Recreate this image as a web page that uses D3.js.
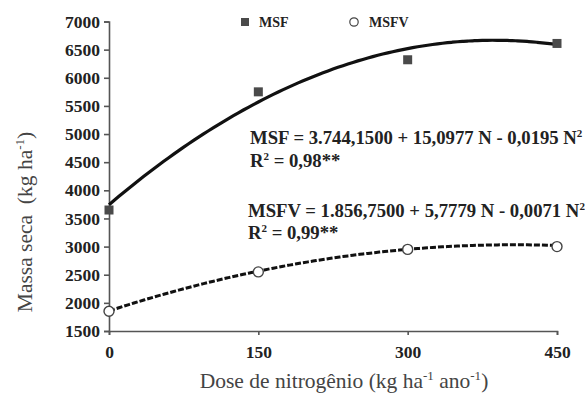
<!DOCTYPE html>
<html>
<head>
<meta charset="utf-8">
<script src="https://cdn.jsdelivr.net/npm/d3@7"></script>
<style>
  html, body { margin: 0; padding: 0; background: #fff; }
  svg { display: block; }
  text { font-family: "Liberation Serif", "Times New Roman", serif; }
</style>
</head>
<body>
<div id="chart"></div>
<script>
// ---- data ----
const doses = [0, 150, 300, 450];
const msfValues = [3650, 5750, 6320, 6610];
const msfvValues = [1850, 2550, 2950, 3000];
const xTicks = [0, 150, 300, 450];
const yTicks = [1500, 2000, 2500, 3000, 3500, 4000, 4500, 5000, 5500, 6000, 6500, 7000];
// regression coefficients printed on the chart (a, b, c of a + bN + cN²)
const msfCoef = [3744.15, 15.0977, -0.0195];
const msfvCoef = [1856.75, 5.7779, -0.0071];

const W = 585, H = 393;
const svg = d3.select("#chart").append("svg").attr("width", W).attr("height", H);

const x = d3.scaleLinear().domain([0, 450]).range([109, 557]);
const y = d3.scaleLinear().domain([1500, 7000]).range([331, 21.5]);

const axisColor = "#555";

// y axis
const yAxis = svg.append("g").attr("transform", `translate(${x(0)},0)`)
  .call(d3.axisLeft(y).tickValues(yTicks).tickSize(5).tickPadding(4).tickFormat(d3.format("d")));
// x axis
const xAxis = svg.append("g").attr("transform", `translate(0,${y(1500)})`)
  .call(d3.axisBottom(x).tickValues(xTicks).tickSize(4).tickPadding(6).tickFormat(d3.format("d")));

[yAxis, xAxis].forEach(g => {
  g.attr("font-family", "'Liberation Serif', serif");
  g.select(".domain").attr("stroke", axisColor).attr("stroke-width", 1.6);
  g.selectAll(".tick line").attr("stroke", axisColor).attr("stroke-width", 1.6);
  g.selectAll(".tick text").attr("fill", "#222").attr("font-size", 17.5).attr("font-weight", "bold");
});
xAxis.selectAll(".tick text").attr("dy", "0.95em");

// fitted curves
const fitPts = d3.range(0, 451, 5);
const poly = (c, n) => c[0] + c[1] * n + c[2] * n * n;
const line = d3.line().x(d => x(d[0])).y(d => y(d[1])).curve(d3.curveMonotoneX);

svg.append("path").datum(fitPts.map(n => [n, poly(msfCoef, n)]))
  .attr("d", line).attr("fill", "none").attr("stroke", "#111").attr("stroke-width", 3.2);
svg.append("path").datum(fitPts.map(n => [n, poly(msfvCoef, n)]))
  .attr("d", line).attr("fill", "none").attr("stroke", "#111").attr("stroke-width", 3)
  .attr("stroke-dasharray", "6,2");

// markers
const sq = 9;
svg.append("g").selectAll("rect").data(doses).join("rect")
  .attr("x", (d, i) => x(d) - sq / 2).attr("y", (d, i) => y(msfValues[i]) - sq / 2)
  .attr("width", sq).attr("height", sq).attr("fill", "#4a4a4a");
svg.append("g").selectAll("circle").data(doses).join("circle")
  .attr("cx", d => x(d)).attr("cy", (d, i) => y(msfvValues[i])).attr("r", 5)
  .attr("fill", "#fff").attr("stroke", "#444").attr("stroke-width", 1.4);

// legend
svg.append("rect").attr("x", 241).attr("y", 18).attr("width", 8).attr("height", 8).attr("fill", "#4a4a4a");
svg.append("text").attr("x", 259).attr("y", 27).attr("font-size", 14).attr("font-weight", "bold").attr("fill", "#222").text("MSF");
svg.append("circle").attr("cx", 354).attr("cy", 22).attr("r", 4.2).attr("fill", "#fff").attr("stroke", "#444").attr("stroke-width", 1.2);
svg.append("text").attr("x", 369).attr("y", 27).attr("font-size", 14).attr("font-weight", "bold").attr("fill", "#222").text("MSFV");

// equations
function eq(xp, yp, main) {
  const t = svg.append("text").attr("x", xp).attr("y", yp).attr("font-size", 18.7).attr("font-weight", "bold").attr("fill", "#222");
  t.append("tspan").text(main);
  t.append("tspan").attr("font-size", 11).attr("dy", -7).text("2");
}
function r2(xp, yp, val) {
  const t = svg.append("text").attr("x", xp).attr("y", yp).attr("font-size", 18.7).attr("font-weight", "bold").attr("fill", "#222");
  t.append("tspan").text("R");
  t.append("tspan").attr("font-size", 11).attr("dy", -7).text("2");
  t.append("tspan").attr("dy", 7).text(" = " + val);
}
eq(250, 144, "MSF = 3.744,1500 + 15,0977 N - 0,0195 N");
r2(250, 167, "0,98**");
eq(248, 217, "MSFV = 1.856,7500 + 5,7779 N - 0,0071 N");
r2(248, 239, "0,99**");

// axis titles
svg.append("text").attr("x", 344).attr("y", 388).attr("text-anchor", "middle").attr("font-size", 21.5).attr("fill", "#444")
  .call(t => {
    t.append("tspan").text("Dose de nitrogênio (kg ha");
    t.append("tspan").attr("font-size", 13).attr("dy", -8).text("-1");
    t.append("tspan").attr("dy", 8).text(" ano");
    t.append("tspan").attr("font-size", 13).attr("dy", -8).text("-1");
    t.append("tspan").attr("dy", 8).text(")");
  });
svg.append("text").attr("transform", "translate(32,222) rotate(-90)").attr("text-anchor", "middle").attr("font-size", 21.5).attr("fill", "#444")
  .call(t => {
    t.append("tspan").text("Massa seca\u00a0 (kg ha");
    t.append("tspan").attr("font-size", 13).attr("dy", -8).text("-1");
    t.append("tspan").attr("dy", 8).text(")");
  });
</script>
</body>
</html>
